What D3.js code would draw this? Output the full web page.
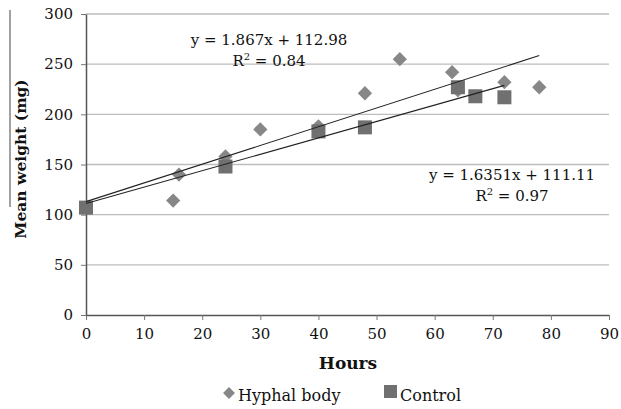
<!DOCTYPE html>
<html>
<head>
<meta charset="utf-8">
<script src="https://cdn.jsdelivr.net/npm/d3@7"></script>
<style>
  body { margin: 0; background: #fff; }
  text { font-family: "DejaVu Serif", serif; fill: #111; }
</style>
</head>
<body>
<svg id="chart" width="621" height="409"></svg>
<script>
// hyphal body points (hours, mg)
var hyphalX = [15, 16, 24, 30, 40, 48, 54, 63, 64, 72, 78];
var hyphalY = [114, 140, 158, 185, 188, 221, 255, 242, 224, 232, 227];
// control points
var controlX = [0, 24, 40, 48, 64, 67, 72];
var controlY = [107, 148, 183, 187, 227, 218, 217];

var xTicks = [0, 10, 20, 30, 40, 50, 60, 70, 80, 90];
var yTicks = [0, 50, 100, 150, 200, 250, 300];

// trendlines from the picture
var hyphalFit = { slope: 1.867, icpt: 112.98, xEnd: 78, label: "y = 1.867x + 112.98", r2: "0.84" };
var controlFit = { slope: 1.6351, icpt: 111.11, xEnd: 72, label: "y = 1.6351x + 111.11", r2: "0.97" };

var svg = d3.select("#chart");

var x = d3.scaleLinear().domain([0, 90]).range([86, 609]);
var y = d3.scaleLinear().domain([0, 300]).range([315, 14]);

// gridlines
svg.append("g").selectAll("line").data(yTicks.filter(function (d) { return d > 0; }))
  .enter().append("line")
  .attr("x1", x(0)).attr("x2", x(90))
  .attr("y1", function (d) { return y(d); }).attr("y2", function (d) { return y(d); })
  .style("stroke", "#bdbdbd").style("stroke-width", 1.3);

var xAxis = svg.append("g").attr("transform", "translate(0," + y(0) + ")")
  .call(d3.axisBottom(x).tickValues(xTicks).tickSize(5).tickSizeOuter(0).tickPadding(8));
var yAxis = svg.append("g").attr("transform", "translate(" + x(0) + ",0)")
  .call(d3.axisLeft(y).tickValues(yTicks).tickSize(5).tickSizeOuter(0).tickPadding(8));

[xAxis, yAxis].forEach(function (a) {
  a.select(".domain").style("stroke", "#555").style("stroke-width", 1.5);
  a.selectAll(".tick line").style("stroke", "#777");
  a.selectAll("text").style("font-family", "DejaVu Serif, serif").style("font-size", "15px").style("fill", "#111");
});

// markers
svg.append("g").selectAll("path").data(hyphalX)
  .enter().append("path")
  .attr("d", d3.symbol().type(d3.symbolDiamond2).size(130))
  .attr("transform", function (d, i) { return "translate(" + x(d) + "," + y(hyphalY[i]) + ")"; })
  .style("fill", "#878787");

svg.append("g").selectAll("rect").data(controlX)
  .enter().append("rect")
  .attr("x", function (d) { return x(d) - 7; })
  .attr("y", function (d, i) { return y(controlY[i]) - 7; })
  .attr("width", 14).attr("height", 14)
  .style("fill", "#707070");

// trendlines
[hyphalFit, controlFit].forEach(function (f) {
  svg.append("line")
    .attr("x1", x(0)).attr("y1", y(f.icpt))
    .attr("x2", x(f.xEnd)).attr("y2", y(f.icpt + f.slope * f.xEnd))
    .style("stroke", "#222").style("stroke-width", 1.1);
});

function eq(f, cx, by) {
  svg.append("text").attr("x", cx).attr("y", by).attr("text-anchor", "middle")
    .style("font-size", "15px").text(f.label);
  var t = svg.append("text").attr("x", cx).attr("y", by + 21).attr("text-anchor", "middle")
    .style("font-size", "15px");
  t.append("tspan").text("R");
  t.append("tspan").attr("dy", -6).style("font-size", "10px").text("2");
  t.append("tspan").attr("dy", 6).text(" = " + f.r2);
}
eq(hyphalFit, 269, 45);
eq(controlFit, 512, 180);

// axis titles
svg.append("text").attr("x", 348).attr("y", 369).attr("text-anchor", "middle")
  .style("font-size", "17px").style("font-weight", "bold").text("Hours");
svg.append("text").attr("transform", "translate(26,159) rotate(-90)").attr("text-anchor", "middle")
  .style("font-size", "15.5px").style("font-weight", "bold").text("Mean weight (mg)");

// stray vertical line in the scan
svg.append("line").attr("x1", 10).attr("x2", 10).attr("y1", 10).attr("y2", 207)
  .style("stroke", "#444").style("stroke-width", 1);

// legend
svg.append("path").attr("d", d3.symbol().type(d3.symbolDiamond2).size(90))
  .attr("transform", "translate(229,393)").style("fill", "#878787");
svg.append("text").attr("x", 238).attr("y", 401).style("font-size", "16px").text("Hyphal body");
svg.append("rect").attr("x", 384).attr("y", 385).attr("width", 13).attr("height", 13).style("fill", "#707070");
svg.append("text").attr("x", 400).attr("y", 401).style("font-size", "16px").text("Control");
</script>
</body>
</html>
